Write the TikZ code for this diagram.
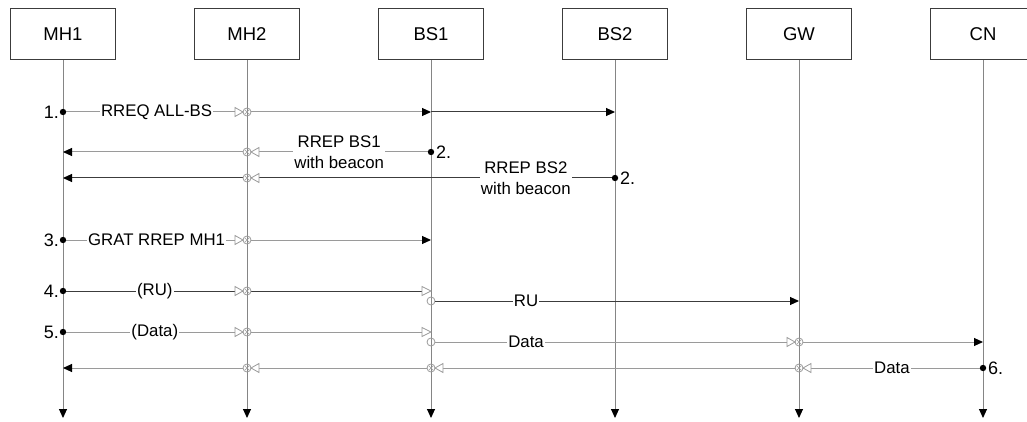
\documentclass[tikz,border=0pt]{standalone}
\usepackage{fontspec}
\setmainfont{Liberation Sans}
\usetikzlibrary{arrows.meta}

\definecolor{lightline}{HTML}{9A9A9A}
\definecolor{darkline}{HTML}{3C3C3C}
\definecolor{lifegray}{HTML}{858585}

\tikzset{
	soft/.style={draw=lightline,line width=1pt},
	hard/.style={draw=darkline,line width=1pt},
	tip/.style={-{Triangle[black,length=9pt,width=8pt]}},
	% open triangle, tip at the origin, pointing right
	intip/.pic={\draw[lightline,fill=white,line width=.8pt] (0,0) -- (-9,4.5) -- (-9,-4.5) -- cycle;},
	outcirc/.pic={\draw[lightline,line width=.8pt] (0,0) circle (4);},
	relay/.pic={
		\draw[lightline,fill=white,line width=.8pt] (-4,0) -- (-12,4.5) -- (-12,-4.5) -- cycle;
		\draw[lightline,line width=.8pt] (0,0) circle (4);
		\draw[lightline,line width=.6pt] (-2.2,-2.2) -- (2.2,2.2) (-2.2,2.2) -- (2.2,-2.2);
	},
	step label/.style={inner sep=0pt,font=\fontsize{18}{20}\selectfont}
}

\begin{document}
\begin{tikzpicture}[x=1pt,y=-1pt]
\useasboundingbox (0,0) rectangle (1027,422);

\begin{scope}[every node/.style={draw=darkline,line width=1pt,minimum width=105pt,minimum height=51pt,font=\fontsize{18.5}{20}\selectfont}]
	\node (MH1) at (63,34.5) {MH1};
	\node (MH2) at (247,34.5) {MH2};
	\node (BS1) at (431,34.5) {BS1};
	\node (BS2) at (615,34.5) {BS2};
	\node (GW) at (799,34.5) {GW};
	\node (CN) at (983,34.5) {CN};
\end{scope}

% lifelines and the points where messages meet them
\foreach \n in {MH1,MH2,BS1,BS2,GW,CN} {
	\coordinate (\n-end) at (\n.south |- 0,418);
	\draw[draw=lifegray,line width=1pt,tip] (\n.south) -- (\n-end);
	\foreach \r/\y in {1/112,2/152,3/178,4/240,5/291,6/301,7/332,8/342,9/368}
		\coordinate (\n-\r) at (\n.south |- 0,\y);
}

\begin{scope}[every node/.style={fill=white,inner sep=1pt,align=center,font=\fontsize{16.8}{21}\selectfont}]
	% 1. route request
	\path (MH1-1) edge[soft] node[pos=.52] {RREQ ALL-BS} ([xshift=-4pt]MH2-1);
	\path [tip] ([xshift=4pt]MH2-1) edge[soft] (BS1-1);
	\path [tip] (BS1-1) edge[hard] (BS2-1);
	\pic at (MH2-1) {relay};
	% 2. route replies
	\path (BS1-2) edge[soft] node[pos=.51] {RREP BS1\\with beacon} ([xshift=4pt]MH2-2);
	\path [tip] ([xshift=-4pt]MH2-2) edge[soft] (MH1-2);
	\pic[xscale=-1] at (MH2-2) {relay};
	\path (BS2-3) edge[hard] node[pos=.245] {RREP BS2\\with beacon} ([xshift=4pt]MH2-3);
	\path [tip] ([xshift=-4pt]MH2-3) edge[hard] (MH1-3);
	\pic[xscale=-1] at (MH2-3) {relay};
	% 3. gratuitous reply
	\path (MH1-4) edge[soft] node[pos=.52] {GRAT RREP MH1} ([xshift=-4pt]MH2-4);
	\path [tip] ([xshift=4pt]MH2-4) edge[soft] (BS1-4);
	\pic at (MH2-4) {relay};
	% 4. route update
	\path (MH1-5) edge[hard] node[pos=.51] {(RU)} ([xshift=-4pt]MH2-5);
	\path ([xshift=4pt]MH2-5) edge[hard] ([xshift=-6pt]BS1-5);
	\pic at (MH2-5) {relay};
	\pic at (BS1-5) {intip};
	\pic at (BS1-6) {outcirc};
	\path [tip] ([xshift=4pt]BS1-6) edge[hard] node[pos=.25] {RU} (GW-6);
	% 5. data to the correspondent node
	\path (MH1-7) edge[soft] node[pos=.51] {(Data)} ([xshift=-4pt]MH2-7);
	\path ([xshift=4pt]MH2-7) edge[soft] ([xshift=-6pt]BS1-7);
	\pic at (MH2-7) {relay};
	\pic at (BS1-7) {intip};
	\pic at (BS1-8) {outcirc};
	\path ([xshift=4pt]BS1-8) edge[soft] node[pos=.253] {Data} ([xshift=-4pt]GW-8);
	\path [tip] ([xshift=4pt]GW-8) edge[soft] (CN-8);
	\pic at (GW-8) {relay};
	% 6. data back
	\path (CN-9) edge[soft] node[pos=.506] {Data} ([xshift=4pt]GW-9);
	\path ([xshift=-4pt]GW-9) edge[soft] ([xshift=4pt]BS1-9);
	\path ([xshift=-4pt]BS1-9) edge[soft] ([xshift=4pt]MH2-9);
	\path [tip] ([xshift=-4pt]MH2-9) edge[soft] (MH1-9);
	\pic[xscale=-1] at (GW-9) {relay};
	\pic[xscale=-1] at (BS1-9) {relay};
	\pic[xscale=-1] at (MH2-9) {relay};
\end{scope}

% message starts
\fill (MH1-1) circle (3.2) node[step label,left=4pt] {1.};
\fill (BS1-2) circle (3.2) node[step label,right=5pt] {2.};
\fill (BS2-3) circle (3.2) node[step label,right=5pt] {2.};
\fill (MH1-4) circle (3.2) node[step label,left=4pt] {3.};
\fill (MH1-5) circle (3.2) node[step label,left=4pt] {4.};
\fill (MH1-7) circle (3.2) node[step label,left=4pt] {5.};
\fill (CN-9) circle (3.2) node[step label,right=5pt] {6.};

\end{tikzpicture}
\end{document}
